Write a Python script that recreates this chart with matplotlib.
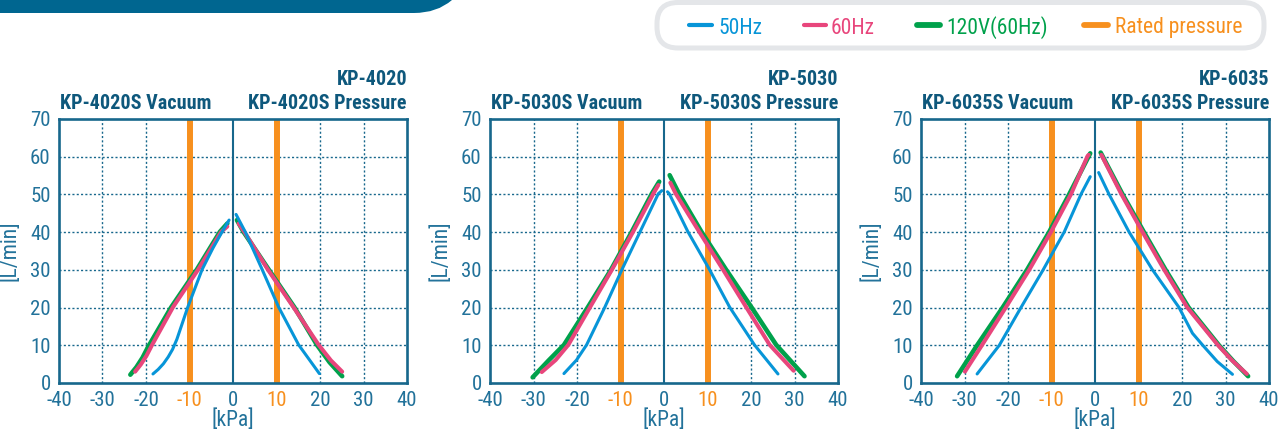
import os
import matplotlib
matplotlib.use("Agg")
import matplotlib.pyplot as plt
from matplotlib import font_manager
from matplotlib.font_manager import FontProperties
from matplotlib.patches import FancyBboxPatch, PathPatch
from matplotlib.path import Path
from matplotlib.lines import Line2D
from matplotlib.transforms import Affine2D

# ---------------- data ----------------
models = ["KP-4020", "KP-5030", "KP-6035"]
vac_titles = ["KP-4020S Vacuum", "KP-5030S Vacuum", "KP-6035S Vacuum"]
press_titles = ["KP-4020S Pressure", "KP-5030S Pressure", "KP-6035S Pressure"]
series_names = ["50Hz", "60Hz", "120V(60Hz)"]
rated_label = "Rated pressure"
rated_pressure = [-10, 10]
x_ticks = [-40, -30, -20, -10, 0, 10, 20, 30, 40]
y_ticks = [0, 10, 20, 30, 40, 50, 60, 70]
x_label = "[kPa]"
y_label = "[L/min]"

# KP-4020
kp4020_50_vac_x = [-18.4, -17.2, -16.0, -14.9, -13.9, -12.9, -10.4, -7.1, -4.6, -2.4, -0.9]
kp4020_50_vac_y = [2.4, 3.6, 5.1, 6.9, 8.9, 11.6, 20.1, 30.1, 35.8, 40.3, 43.2]
kp4020_60_vac_x = [-22.5, -21.2, -19.9, -18.6, -13.8, -8.0, -2.7, -1.3]
kp4020_60_vac_y = [3.0, 4.9, 7.2, 10.1, 20.1, 30.1, 40.1, 41.5]
kp4020_120_vac_x = [-23.6, -22.2, -20.8, -19.5, -14.2, -8.3, -3.0, -1.3]
kp4020_120_vac_y = [2.2, 4.2, 6.7, 9.6, 20.1, 30.1, 40.1, 42.3]
kp4020_50_pr_x = [0.7, 2.8, 6.7, 10.5, 15.1, 19.85]
kp4020_50_pr_y = [44.7, 40.1, 30.1, 20.1, 10.1, 2.5]
kp4020_60_pr_x = [1.3, 2.6, 8.0, 13.9, 19.7, 22.5, 25.1]
kp4020_60_pr_y = [42.3, 40.1, 30.1, 20.1, 10.1, 6.0, 3.0]
kp4020_120_pr_x = [0.9, 2.4, 8.2, 14.1, 19.3, 22.2, 25.1]
kp4020_120_pr_y = [43.2, 40.1, 30.1, 20.1, 10.1, 5.5, 1.8]

# KP-5030
kp5030_50_vac_x = [-23.0, -20.1, -17.8, -13.6, -9.7, -5.5, -1.3, -0.5]
kp5030_50_vac_y = [2.5, 6.1, 10.1, 20.1, 30.0, 40.1, 50.2, 51.0]
kp5030_60_vac_x = [-28.1, -24.9, -22.0, -17.0, -12.0, -7.1, -2.45, -1.3]
kp5030_60_vac_y = [2.9, 6.1, 10.1, 20.1, 30.0, 40.1, 50.2, 52.5]
kp5030_120_vac_x = [-30.2, -26.5, -23.0, -17.5, -12.2, -7.4, -2.8, -1.1]
kp5030_120_vac_y = [1.5, 6.0, 10.1, 20.1, 30.0, 40.1, 50.2, 53.4]
kp5030_50_pr_x = [0.8, 1.2, 5.5, 10.5, 15.1, 20.8, 26.2]
kp5030_50_pr_y = [50.7, 50.2, 40.1, 30.0, 20.1, 10.1, 2.4]
kp5030_60_pr_x = [1.46, 2.7, 8.1, 13.6, 18.9, 24.3, 29.8]
kp5030_60_pr_y = [53.1, 50.2, 40.1, 30.0, 20.1, 10.1, 3.25]
kp5030_120_pr_x = [1.3, 3.45, 8.6, 14.3, 20.1, 25.8, 32.3]
kp5030_120_pr_y = [55.1, 50.2, 40.1, 30.0, 20.1, 10.1, 1.8]

# KP-6035
kp6035_50_vac_x = [-27.1, -22.0, -17.0, -11.9, -7.05, -3.2, -1.1]
kp6035_50_vac_y = [2.4, 10.0, 20.05, 30.05, 40.1, 50.1, 54.7]
kp6035_60_vac_x = [-29.9, -26.0, -20.5, -15.1, -10.1, -5.5, -1.7, -1.45]
kp6035_60_vac_y = [3.0, 10.0, 20.05, 30.05, 40.1, 50.1, 60.2, 60.5]
kp6035_120_vac_x = [-31.7, -27.1, -21.2, -15.6, -10.5, -5.9, -1.1]
kp6035_120_vac_y = [1.8, 10.0, 20.05, 30.05, 40.1, 50.1, 60.9]
kp6035_50_pr_x = [0.84, 3.2, 7.8, 13.2, 19.3, 22.4, 24.7, 28.1, 31.6]
kp6035_50_pr_y = [55.8, 50.1, 40.1, 30.05, 20.05, 13.2, 10.1, 5.7, 2.3]
kp6035_60_pr_x = [1.46, 6.05, 10.9, 15.9, 21.2, 28.3, 31.5, 34.9]
kp6035_60_pr_y = [60.5, 50.1, 40.1, 30.05, 20.05, 10.0, 6.0, 2.4]
kp6035_120_pr_x = [1.3, 6.3, 11.2, 16.2, 21.5, 28.5, 31.8, 35.2]
kp6035_120_pr_y = [61.1, 50.1, 40.1, 30.05, 20.05, 10.0, 5.8, 1.8]

panels = [
    [(kp4020_50_vac_x, kp4020_50_vac_y, kp4020_50_pr_x, kp4020_50_pr_y),
     (kp4020_60_vac_x, kp4020_60_vac_y, kp4020_60_pr_x, kp4020_60_pr_y),
     (kp4020_120_vac_x, kp4020_120_vac_y, kp4020_120_pr_x, kp4020_120_pr_y)],
    [(kp5030_50_vac_x, kp5030_50_vac_y, kp5030_50_pr_x, kp5030_50_pr_y),
     (kp5030_60_vac_x, kp5030_60_vac_y, kp5030_60_pr_x, kp5030_60_pr_y),
     (kp5030_120_vac_x, kp5030_120_vac_y, kp5030_120_pr_x, kp5030_120_pr_y)],
    [(kp6035_50_vac_x, kp6035_50_vac_y, kp6035_50_pr_x, kp6035_50_pr_y),
     (kp6035_60_vac_x, kp6035_60_vac_y, kp6035_60_pr_x, kp6035_60_pr_y),
     (kp6035_120_vac_x, kp6035_120_vac_y, kp6035_120_pr_x, kp6035_120_pr_y)],
]

# ---------------- fonts ----------------
def _weight_num(w):
    if isinstance(w, (int, float)):
        return w
    table = {"ultralight": 100, "light": 300, "normal": 400, "regular": 400, "book": 400,
             "medium": 500, "roman": 400, "semibold": 600, "demibold": 600, "demi": 600,
             "bold": 700, "heavy": 800, "extra bold": 800, "black": 900}
    return table.get(str(w).lower(), 400)


def find_condensed(bold):
    prefs = ["liberation sans narrow", "arial narrow", "roboto condensed",
             "open sans condensed", "noto sans condensed", "dejavu sans condensed",
             "noto sans", "open sans", "dejavu sans"]
    best = None
    for f in font_manager.fontManager.ttflist:
        base = os.path.basename(f.fname).lower()
        full = (f.name + " " + base).lower()
        cond = ("narrow" in full or "condensed" in full or
                str(f.stretch) in ("condensed", "semi-condensed", "extra-condensed"))
        if not cond:
            continue
        if "italic" in full or "oblique" in full or f.style != "normal":
            continue
        if "semicondensed" in base.replace("-", "") or "extracondensed" in base.replace("-", ""):
            continue
        w = _weight_num(f.weight)
        if bold and "bold" not in full and w < 650:
            continue
        if (not bold) and ("bold" in full or w >= 550 or "light" in full or "thin" in full
                           or "medium" in full or "black" in full):
            continue
        rank = len(prefs)
        for i, p in enumerate(prefs):
            if p in full:
                rank = i
                break
        if "semibold" in full or "extrabold" in full:
            rank += 20
        if best is None or rank < best[0]:
            best = (rank, f.fname)
    return best[1] if best else None


reg_file = find_condensed(False)
bold_file = find_condensed(True)
NARROW = reg_file is not None and bold_file is not None
if NARROW:
    FP_REG = FontProperties(fname=reg_file)
    FP_BOLD = FontProperties(fname=bold_file)
    S = 1.0
else:
    FP_REG = FontProperties(family=["Liberation Sans", "DejaVu Sans"])
    FP_BOLD = FontProperties(family=["Liberation Sans", "DejaVu Sans"], weight="bold")
    S = 0.84


def fp(base, size):
    p = base.copy()
    p.set_size(size * S)
    return p


# ---------------- style ----------------
C_BLUE = "#0795d8"
C_PINK = "#e8467c"
C_GREEN = "#00a14b"
C_ORANGE = "#f7901e"
C_AXIS = "#17678c"
C_TICK = "#22729a"
C_TITLE = "#0e587c"
C_BANNER = "#006690"
C_LEGBOX = "#e4e6e9"
series_colors = [C_BLUE, C_PINK, C_GREEN]
series_lw = [2.2, 2.9, 3.3]
series_z = [6, 5, 4]

W, H = 1286, 432
fig = plt.figure(figsize=(W / 100, H / 100), dpi=100)
fig.patch.set_facecolor("white")
PX = Affine2D().scale(1.0 / W, -1.0 / H).translate(0, 1) + fig.transFigure


def fx(x):
    return x / W


def fy(y):
    return 1 - y / H


# banner at top-left
verts = [(0, 0), (452, 0), (437, 13), (414, 13), (0, 13), (0, 0)]
codes = [Path.MOVETO, Path.LINETO, Path.CURVE3, Path.CURVE3, Path.LINETO, Path.CLOSEPOLY]
fig.patches.append(PathPatch(Path(verts, codes), transform=PX,
                             facecolor=C_BANNER, edgecolor="none"))

# legend box
fig.patches.append(FancyBboxPatch((657, 2.5), 607, 45.5,
                                  boxstyle="round,pad=0,rounding_size=21",
                                  transform=PX, facecolor="white",
                                  edgecolor=C_LEGBOX, linewidth=3.6))

leg_items = [(689, 712, 718, series_names[0], C_BLUE, 3.0),
             (804, 826, 831, series_names[1], C_PINK, 3.0),
             (917, 940, 946, series_names[2], C_GREEN, 4.2),
             (1084, 1108, 1115, rated_label, C_ORANGE, 4.2)]
for x0, x1, xt, lab, col, lw in leg_items:
    fig.add_artist(Line2D([x0, x1], [25, 25], transform=PX,
                          color=col, lw=lw, solid_capstyle="round"))
    fig.text(fx(xt), fy(33.5), lab, color=col, fontproperties=fp(FP_REG, 15.5),
             va="baseline", ha="left")

ax_lefts = [59, 490, 921]
ax_w = 348
ax_top, ax_bot = 119, 383

for i, left in enumerate(ax_lefts):
    ax = fig.add_axes([fx(left), fy(ax_bot), ax_w / W, (ax_bot - ax_top) / H])
    ax.set_xlim(-40, 40)
    ax.set_ylim(0, 70)
    ax.set_xticks(x_ticks)
    ax.set_yticks(y_ticks)
    for gx in x_ticks[1:-1]:
        if gx == 0 or gx in rated_pressure:
            continue
        ax.axvline(gx, color=C_AXIS, lw=1.0, ls=(0, (1.5, 1.6)), zorder=1)
    for gy in y_ticks[1:-1]:
        ax.axhline(gy, color=C_AXIS, lw=1.0, ls=(0, (1.5, 1.6)), zorder=1)
    ax.axvline(0, color=C_AXIS, lw=1.5, zorder=2)
    for rp in rated_pressure:
        ax.axvline(rp, color=C_ORANGE, lw=4.3, zorder=3)
    for k in [2, 1, 0]:
        vx, vy, px_, py_ = panels[i][k]
        for xs, ys in ((vx, vy), (px_, py_)):
            ax.plot(xs, ys, color=series_colors[k], lw=series_lw[k],
                    solid_capstyle="round", solid_joinstyle="round", zorder=series_z[k])
    for sp in ax.spines.values():
        sp.set_color(C_AXIS)
        sp.set_linewidth(1.9)
        sp.set_zorder(10)
    ax.tick_params(length=0, colors=C_TICK)
    ax.tick_params(axis="x", pad=5.5)
    ax.tick_params(axis="y", pad=6)
    ax.set_xticklabels([str(t) for t in x_ticks], fontproperties=fp(FP_REG, 15))
    ax.set_yticklabels([str(t) for t in y_ticks], fontproperties=fp(FP_REG, 15))
    for lab, t in zip(ax.get_xticklabels(), x_ticks):
        if t in rated_pressure:
            lab.set_color(C_ORANGE)
    ax.set_xlabel(x_label, fontproperties=fp(FP_REG, 15.5), color=C_TICK, labelpad=0)
    ax.set_ylabel(y_label, fontproperties=fp(FP_REG, 15.5), color=C_TICK, labelpad=0)
    ax.yaxis.set_label_coords(-0.112, 0.5)

    fig.text(fx(left + ax_w), fy(85), models[i], fontproperties=fp(FP_BOLD, 14.5),
             color=C_TITLE, ha="right", va="baseline")
    fig.text(fx(left + ax_w), fy(109), press_titles[i], fontproperties=fp(FP_BOLD, 14.5),
             color=C_TITLE, ha="right", va="baseline")
    fig.text(fx(left + 1), fy(109), vac_titles[i], fontproperties=fp(FP_BOLD, 14.5),
             color=C_TITLE, ha="left", va="baseline")

fig.savefig("out.png", dpi=100, facecolor="white")
